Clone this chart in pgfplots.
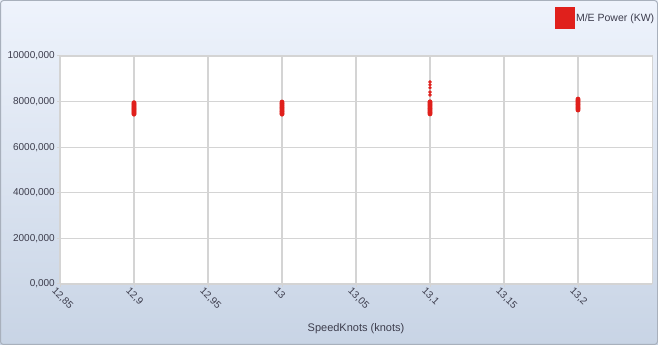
\documentclass[border=0pt]{standalone}
\usepackage{pgfplots}
\pgfplotsset{compat=1.18}
\usepackage{fontspec}
\setmainfont{Liberation Sans}
\definecolor{bgtop}{HTML}{EEF3FC}
\definecolor{bgbot}{HTML}{C8D4E5}
\definecolor{framecol}{HTML}{A8B0BC}
\definecolor{gridcol}{HTML}{D4D4D4}
\definecolor{mred}{HTML}{E0201C}
\definecolor{txt}{HTML}{3C3C4C}
\begin{document}
\begin{tikzpicture}
\path[use as bounding box] (0pt,0pt) rectangle (658pt,345pt);
\shade[top color=bgtop,bottom color=bgbot] (0pt,0pt) rectangle (658pt,345pt);
\draw[framecol,line width=1pt,rounded corners=3pt] (0.5pt,0.5pt) rectangle (657.5pt,344.5pt);
\begin{axis}[
  at={(60pt,61pt)}, anchor=south west,
  scale only axis, width=592pt, height=228pt,
  xmin=12.85, xmax=13.25, ymin=0, ymax=10000,
  axis background/.style={fill=white},
  axis line style={draw=gridcol, line width=1pt},
  grid=major,
  major grid style={draw=gridcol, line width=1.2pt},
  tick style={draw=gridcol, line width=1pt},
  tick align=outside, major tick length=3pt,
  xtick pos=bottom, ytick pos=left,
  xtick={12.85,12.9,12.95,13,13.05,13.1,13.15,13.2},
  xticklabels={{12,85},{12,9},{12,95},{13},{13,05},{13,1},{13,15},{13,2}},
  ytick={0,2000,4000,6000,8000,10000},
  scaled y ticks=false,
  yticklabel style={/pgf/number format/fixed, /pgf/number format/fixed zerofill, /pgf/number format/precision=3, /pgf/number format/use comma, /pgf/number format/1000 sep={}, /pgf/number format/assume math mode=true, inner sep=1pt, xshift=-1pt},
  ticklabel style={font=\fontsize{10}{12}\selectfont, text=txt},
  xticklabel style={rotate=-45, anchor=north west, inner sep=1pt, xshift=-4pt, yshift=-1pt},
  xlabel={SpeedKnots (knots)},
  xlabel style={font=\fontsize{11}{13}\selectfont, text=txt, at={(0.5,0)}, anchor=north, yshift=-36pt},
  legend style={at={(0.836,1.215)}, anchor=north west, draw=none, fill=none, inner sep=0pt,
    font=\fontsize{10.5}{12}\selectfont, text=txt, nodes={inner sep=1.5pt}},
  legend image code/.code={\fill[mred] (0pt,-10pt) rectangle (19pt,11pt);},
]
\addplot[only marks, mark=*, mark size=2.2pt, mark options={draw=mred, fill=mred}] coordinates {
(12.9,7450) (12.9,7500) (12.9,7550) (12.9,7600) (12.9,7650) (12.9,7700) (12.9,7750) (12.9,7800) (12.9,7850) (12.9,7900) (12.9,7950)
(13,7450) (13,7500) (13,7560) (13,7620) (13,7680) (13,7740) (13,7800) (13,7860) (13,7920) (13,7980)
(13.1,7460) (13.1,7520) (13.1,7580) (13.1,7640) (13.1,7700) (13.1,7760) (13.1,7820) (13.1,7880) (13.1,7940) (13.1,7990)
(13.2,7630) (13.2,7690) (13.2,7750) (13.2,7810) (13.2,7870) (13.2,7930) (13.2,7990) (13.2,8050) (13.2,8110)
};
\addlegendentry{M/E Power (KW)}
\addplot[only marks, mark=*, mark size=1.5pt, mark options={draw=mred, fill=mred}, forget plot] coordinates {
(13.1,8290) (13.1,8420) (13.1,8600) (13.1,8730) (13.1,8860)
};
\end{axis}
\end{tikzpicture}
\end{document}
